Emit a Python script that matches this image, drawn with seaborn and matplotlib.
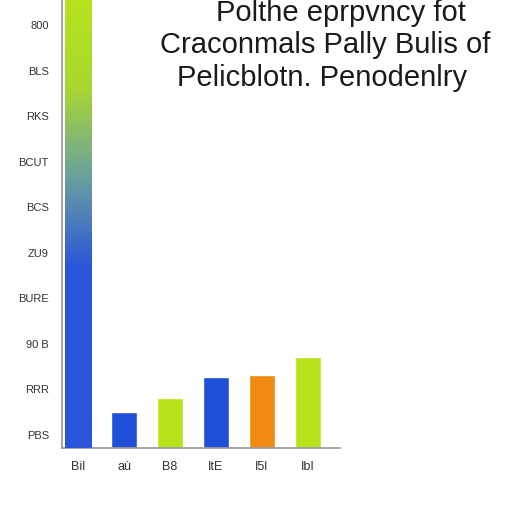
import matplotlib
matplotlib.use("Agg")
import matplotlib.pyplot as plt
import seaborn as sns
import numpy as np
import pandas as pd
from matplotlib.colors import LinearSegmentedColormap

categories = ["Bil", "aù", "B8", "ItE", "I5l", "IbI"]
values = [9.9, 0.8, 1.1, 1.56, 1.6, 2.0]
colors = ["#2a55d8", "#1f4fd8", "#b8e21c", "#1f4fd8", "#f08a10", "#b8e21c"]
ytick_vals = [0.29 + k for k in range(10)]
ytick_labels = ["PBS", "RRR", "90 B", "BURE", "ZU9", "BCS", "BCUT", "RKS", "BLS", "800"]
title_lines = ["Polthe eprpvncy fot", "Craconmals Pally Bulis of", "Pelicblotn. Penodenlry"]

sns.set_theme(style="white")
plt.rcParams['font.family'] = ['Liberation Sans', 'DejaVu Sans']
fig = plt.figure(figsize=(5.12, 5.12), dpi=100)
ax = fig.add_axes([62/512, 64/512, 278/512, 448/512])
df = pd.DataFrame({"c": categories, "v": values})
sns.barplot(data=df, x="c", y="v", hue="c", palette=colors, legend=False, ax=ax, width=0.57, saturation=1)
p = ax.patches[0]
cmap = LinearSegmentedColormap.from_list("g", ["#2a55d8", "#2a55d8", "#2a55d8", "#6aa0a0", "#a8d830", "#b8e21c"])
grad = np.linspace(0, 1, 256).reshape(-1, 1)
x0, w = p.get_x(), p.get_width()
im = ax.imshow(grad, extent=[x0, x0 + w, 0, values[0]], origin="lower", aspect="auto", cmap=cmap, zorder=3)
im.set_clip_path(p)
ax.set_ylim(0, 9.85)
ax.set_xlim(-0.35, 5.7)
ax.set_yticks(ytick_vals)
ax.set_yticklabels(ytick_labels, fontsize=8, color="#333333")
ax.tick_params(axis="x", labelsize=9, colors="#333333")
ax.set_xlabel("")
ax.set_ylabel("")
for s in ["top", "right"]:
    ax.spines[s].set_visible(False)
ax.spines["left"].set_color("#999999")
ax.spines["bottom"].set_color("#999999")
ys = [0.975, 0.912, 0.847]
xs = [0.665, 0.635, 0.63]
for t, y, x in zip(title_lines, ys, xs):
    fig.text(x, y, t, fontsize=21, ha="center", va="center", color="#1a1a1a")
fig.savefig("out.png", dpi=100)
